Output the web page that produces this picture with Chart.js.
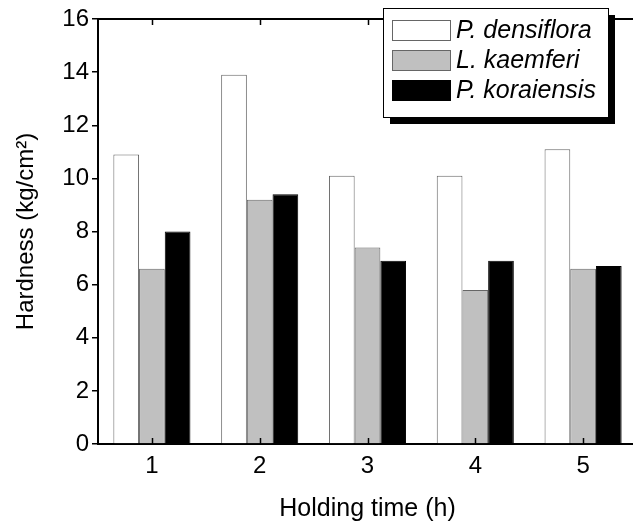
<!DOCTYPE html>
<html>
<head>
<meta charset="utf-8">
<script src="https://cdn.jsdelivr.net/npm/chart.js@4.4.1/dist/chart.umd.min.js"></script>
<style>
  html, body { margin: 0; padding: 0; background: #fff; overflow: hidden; }
  #wrap { width: 633px; height: 529px; overflow: hidden; position: relative; }
  #box { width: 680px; height: 529px; position: absolute; left: 0; top: 0; }
</style>
</head>
<body>
<div id="wrap"><div id="box"><canvas id="c"></canvas></div></div>
<script>
// Holding time (h)
const holdingTimes = ['1', '2', '3', '4', '5'];
// Hardness (kg/cm²) per species
const densiflora = [10.9, 13.9, 10.1, 10.1, 11.1];
const kaemferi   = [6.6, 9.2, 7.4, 5.8, 6.6];
const koraiensis = [8.0, 9.4, 6.9, 6.9, 6.7];
const yTicks = [0, 2, 4, 6, 8, 10, 12, 14, 16];

const FONT = 'Liberation Sans, Arial, sans-serif';

// Axis frame: top border line plus inward ticks on top and bottom axes
const framePlugin = {
  id: 'frame',
  afterDraw(chart) {
    const { ctx, chartArea: a, scales: { x } } = chart;
    ctx.save();
    ctx.strokeStyle = '#000';
    ctx.lineWidth = 2;
    ctx.beginPath();
    ctx.moveTo(a.left - 1, a.top);
    ctx.lineTo(a.right, a.top);
    ctx.stroke();
    ctx.lineWidth = 1.5;
    holdingTimes.forEach((_, i) => {
      const px = Math.round(x.getPixelForValue(i)) + 0.5;
      ctx.beginPath();
      ctx.moveTo(px, a.bottom);
      ctx.lineTo(px, a.bottom - 6);
      ctx.moveTo(px, a.top);
      ctx.lineTo(px, a.top + 6);
      ctx.stroke();
    });
    ctx.restore();
  }
};

// Boxed legend with drop shadow in the upper right
const boxLegend = {
  id: 'boxLegend',
  afterDraw(chart) {
    const { ctx } = chart;
    const left = 383, top = 8, w = 225, h = 109, sh = 7;
    ctx.save();
    ctx.fillStyle = '#000';
    ctx.fillRect(left + sh, top + sh, w, h);
    ctx.fillStyle = '#fff';
    ctx.fillRect(left, top, w, h);
    ctx.strokeStyle = '#000';
    ctx.lineWidth = 1;
    ctx.strokeRect(left + 0.5, top + 0.5, w, h);
    ctx.font = 'italic 25px ' + FONT;
    ctx.textBaseline = 'middle';
    chart.data.datasets.forEach((ds, i) => {
      const y = top + 12 + i * 30;
      ctx.fillStyle = ds.backgroundColor;
      ctx.fillRect(392, y, 59, 21);
      ctx.strokeStyle = ds.borderColor;
      ctx.strokeRect(392.5, y + 0.5, 58, 20);
      ctx.fillStyle = '#000';
      ctx.fillText(ds.label, 456, y + 11);
    });
    ctx.restore();
  }
};

new Chart(document.getElementById('c'), {
  type: 'bar',
  data: {
    labels: holdingTimes,
    datasets: [
      { label: 'P. densiflora', data: densiflora, backgroundColor: '#ffffff', borderColor: '#666666', borderWidth: 1 },
      { label: 'L. kaemferi', data: kaemferi, backgroundColor: '#c0c0c0', borderColor: '#666666', borderWidth: 1 },
      { label: 'P. koraiensis', data: koraiensis, backgroundColor: '#000000', borderColor: '#000000', borderWidth: 1 }
    ]
  },
  options: {
    responsive: true,
    maintainAspectRatio: false,
    animation: false,
    layout: { padding: { top: 19, right: 43, left: 0, bottom: 0 } },
    plugins: { legend: { display: false }, tooltip: { enabled: false } },
    datasets: { bar: { categoryPercentage: 0.715, barPercentage: 1.0 } },
    scales: {
      x: {
        grid: { display: false, drawTicks: false },
        border: { display: true, color: '#000', width: 2 },
        ticks: { color: '#000', font: { family: FONT, size: 24 }, padding: 8 },
        title: { display: true, text: 'Holding time (h)', color: '#000', font: { family: FONT, size: 25 }, padding: { top: 0, bottom: 5 } },
        afterFit(s) { s.height = 85; }
      },
      y: {
        min: 0, max: 16,
        afterBuildTicks(s) { s.ticks = yTicks.map(v => ({ value: v })); },
        grid: { drawOnChartArea: false, drawTicks: true, tickLength: 6, color: '#000', lineWidth: 1.5 },
        border: { display: true, color: '#000', width: 2 },
        ticks: { color: '#000', font: { family: FONT, size: 24 }, padding: 3 },
        title: { display: true, text: 'Hardness (kg/cm²)', color: '#000', font: { family: FONT, size: 24 }, padding: { top: 12, bottom: 0 } },
        afterFit(s) { s.width = 98; }
      }
    }
  },
  plugins: [framePlugin, boxLegend]
});
</script>
</body>
</html>
